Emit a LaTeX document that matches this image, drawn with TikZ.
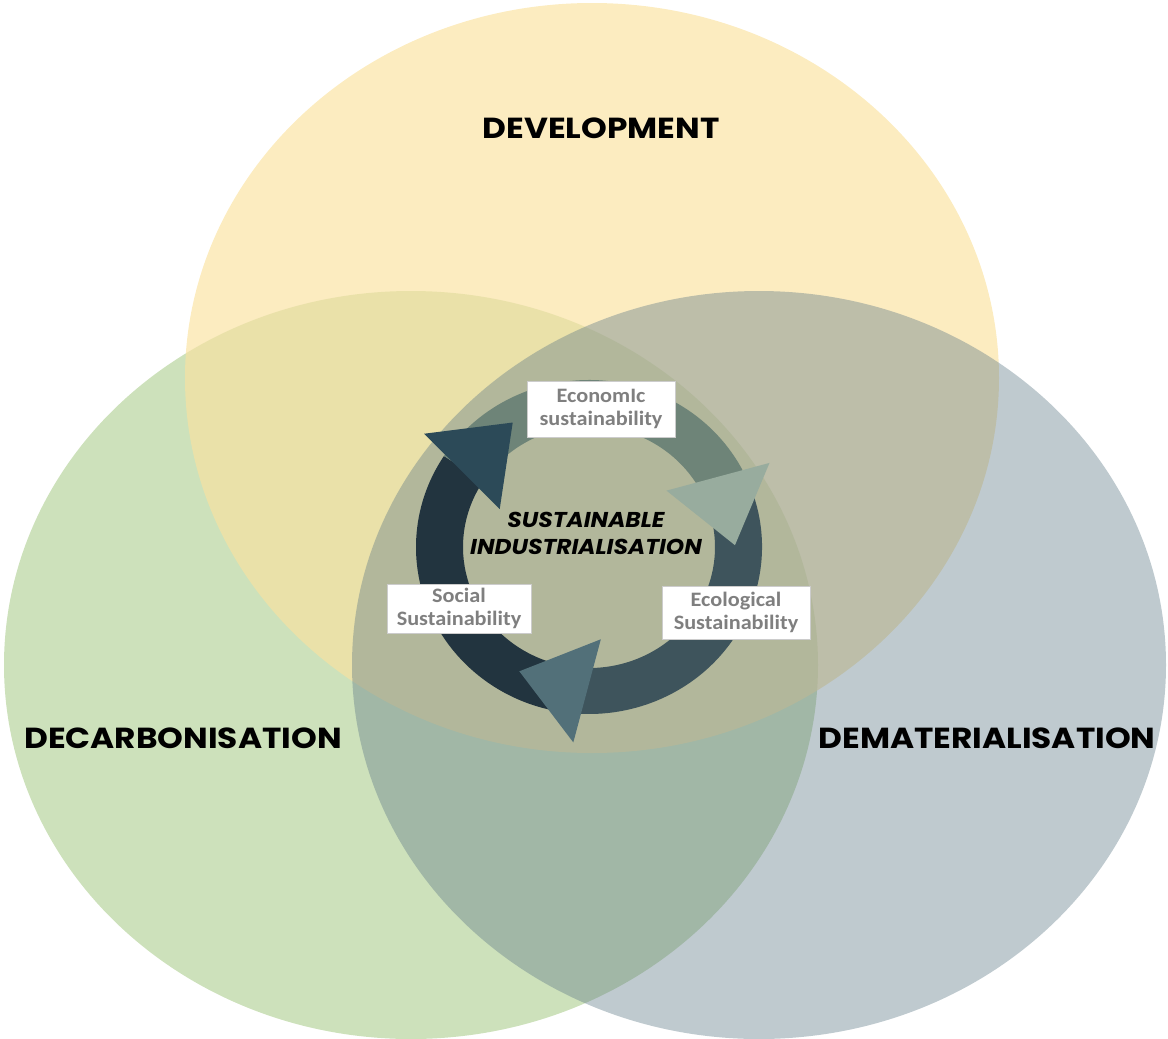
\documentclass[tikz,border=0pt]{standalone}
\usepackage{fontspec}
\newfontfamily\headfont[FakeStretch=1.13]{Poppins}
\newfontfamily\corefont[FakeStretch=1.085]{Poppins}
\newfontfamily\boxfont[FakeStretch=1.085]{Carlito}

\definecolor{devyellow}{RGB}{250,226,160}
\definecolor{decgreen}{RGB}{205,225,187}
\definecolor{demblue}{RGB}{95,122,135}
\definecolor{ringdark}{HTML}{22343F}
\definecolor{ringmid}{HTML}{6E8478}
\definecolor{ringslate}{HTML}{3E545C}
\definecolor{headdark}{HTML}{2C4A58}
\definecolor{headlight}{HTML}{98AC9E}
\definecolor{headslate}{HTML}{527079}
\definecolor{labelgrey}{HTML}{7F7F7F}

\begin{document}
\begin{tikzpicture}[x=1pt,y=-1pt,
  heading/.style={anchor=base, font=\headfont\bfseries\fontsize{29}{31}\selectfont},
  tag/.style={draw=black!20, line width=0.8pt, fill=white, inner sep=0pt, align=center,
    text=labelgrey, font=\boxfont\bfseries\fontsize{20.5}{23.5}\selectfont}]
\useasboundingbox (0,0) rectangle (1168,1039);

% the three fields
\fill[decgreen] (411,665) ellipse [x radius=407, y radius=374];
\fill[devyellow, fill opacity=0.66] (592,378) ellipse [x radius=407, y radius=375];
\fill[demblue, fill opacity=0.4] (759,665) ellipse [x radius=407, y radius=374];

\node[heading] (dev) at (601,138) {DEVELOPMENT};
\node[heading] (decarb) at (183,748) {DECARBONISATION};
\node[heading] (demat) at (987,748) {DEMATERIALISATION};

% cycle in the middle
\begin{scope}[shift={(589,547)}]
\foreach \a/\b/\c in {93/213/ringdark, 213/333/ringmid, 333/453/ringslate}
  \fill[\c] (\a:173 and 167) arc[start angle=\a, end angle=\b, x radius=173, y radius=167]
    -- (\b:126 and 121) arc[start angle=\b, end angle=\a, x radius=126, y radius=121] -- cycle;
\foreach \a/\c/\dy in {91/headslate/-4, 211/headdark/0, 331/headlight/2}
  \fill[\c, yshift=-\dy pt] ({\a-8}:97) -- ({\a+3.5}:200) -- ({\a+27.5}:146) -- cycle;
\end{scope}

\node[font=\corefont\bfseries\itshape\fontsize{21.5}{27}\selectfont, align=center] (core) at (586,533)
  {SUSTAINABLE\\INDUSTRIALISATION};

\node[tag, minimum width=148pt, minimum height=56pt] (econ) at (601,409) {EconomIc\\sustainability};
\node[tag, minimum width=144pt, minimum height=49pt] (social) at (459,608.5) {Social\\Sustainability};
\node[tag, minimum width=148pt, minimum height=53pt] (eco) at (736,612.5) {Ecological\\Sustainability};

\end{tikzpicture}
\end{document}
